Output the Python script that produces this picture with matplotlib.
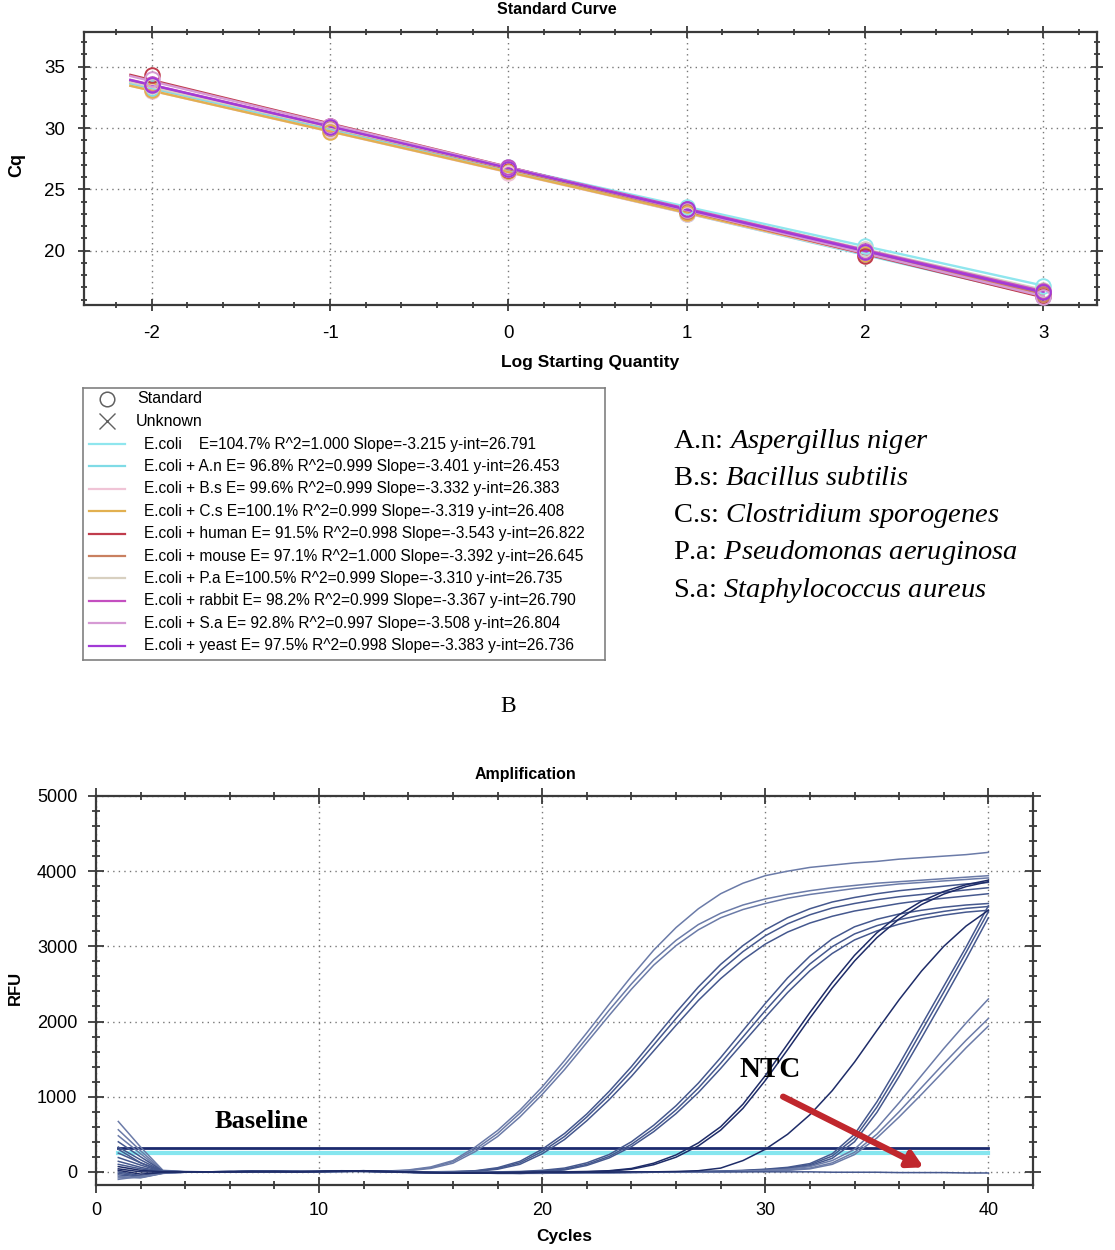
import numpy as np
import matplotlib
matplotlib.use("Agg")
import matplotlib.pyplot as plt
from matplotlib.ticker import MultipleLocator

W, H = 1115, 1250
plt.rcParams['font.family'] = ['Liberation Sans', 'DejaVu Sans']
plt.rcParams['axes.unicode_minus'] = False
plt.rcParams['mathtext.fontset'] = 'custom'
plt.rcParams['mathtext.rm'] = 'Liberation Serif'
plt.rcParams['mathtext.it'] = 'Liberation Serif:italic'

# ---------------- Standard curve data ----------------
log_quantity = [-2, -1, 0, 1, 2, 3]
sample_names = ["", "A.n", "B.s", "C.s", "human", "mouse", "P.a", "rabbit", "S.a", "yeast"]
efficiency = [104.7, 96.8, 99.6, 100.1, 91.5, 97.1, 100.5, 98.2, 92.8, 97.5]
r_squared = [1.000, 0.999, 0.999, 0.999, 0.998, 1.000, 0.999, 0.999, 0.997, 0.998]
slopes = [-3.215, -3.401, -3.332, -3.319, -3.543, -3.392, -3.310, -3.367, -3.508, -3.383]
y_intercepts = [26.791, 26.453, 26.383, 26.408, 26.822, 26.645, 26.735, 26.790, 26.804, 26.736]
sample_colors = ['#8fe6ee', '#7fdbe6', '#f0c4d6', '#e2b050', '#c03c4c',
                 '#c98060', '#d8d0c0', '#c44fc0', '#d69ad4', '#a23ad6']
cq_ecoli = [33.2, 30.0, 26.8, 23.6, 20.4, 17.1]
cq_an = [33.3, 29.8, 26.4, 23.0, 19.7, 16.3]
cq_bs = [33.0, 29.8, 26.3, 23.0, 19.8, 16.4]
cq_cs = [33.1, 29.7, 26.5, 23.1, 19.7, 16.5]
cq_human = [34.3, 30.2, 26.6, 23.2, 19.6, 16.3]
cq_mouse = [33.5, 30.0, 26.7, 23.2, 19.9, 16.5]
cq_pa = [33.4, 30.1, 26.7, 23.4, 20.1, 16.8]
cq_rabbit = [33.6, 30.2, 26.8, 23.4, 20.0, 16.7]
cq_sa = [34.0, 30.2, 26.7, 23.3, 19.9, 16.2]
cq_yeast = [33.5, 30.1, 26.7, 23.4, 19.9, 16.6]
cq_points = [cq_ecoli, cq_an, cq_bs, cq_cs, cq_human, cq_mouse, cq_pa, cq_rabbit, cq_sa, cq_yeast]
fit_x_range = [-2.12, 3.0]

species_abbrev = ["A.n", "B.s", "C.s", "P.a", "S.a"]
species_names = ["Aspergillus niger", "Bacillus subtilis", "Clostridium sporogenes",
                 "Pseudomonas aeruginosa", "Staphylococcus aureus"]

# ---------------- Amplification data (RFU per cycle 1..40) ----------------
cycles = list(range(1, 41))
g1a = [670, 330, 20, 5, 0, 0, 5, 5, 0, 5, 15, 10, 10, 25, 65, 150, 330, 550, 820, 1130, 1480, 1850, 2230, 2600, 2950, 3250, 3500, 3700, 3840, 3940, 4000, 4050, 4080, 4110, 4130, 4160, 4180, 4200, 4220, 4250]
g1b = [560, 280, 15, 0, -5, 0, 5, 0, 0, 5, 10, 10, 5, 20, 55, 135, 300, 510, 780, 1080, 1420, 1780, 2150, 2500, 2820, 3080, 3290, 3440, 3550, 3630, 3690, 3740, 3780, 3810, 3840, 3860, 3880, 3900, 3920, 3940]
g1c = [480, 240, 10, 0, 0, -5, 0, 5, 0, 0, 10, 15, 5, 15, 45, 115, 270, 470, 730, 1030, 1360, 1720, 2080, 2430, 2750, 3010, 3220, 3380, 3490, 3570, 3640, 3690, 3730, 3770, 3800, 3830, 3850, 3870, 3890, 3910]
g2a = [400, 200, 10, 0, 0, 0, 5, 5, 0, 0, 10, 10, 5, 0, 0, 5, 15, 55, 140, 300, 510, 770, 1070, 1400, 1760, 2120, 2460, 2760, 3010, 3220, 3380, 3500, 3590, 3650, 3700, 3740, 3770, 3800, 3830, 3850]
g2b = [330, 160, 5, 0, -5, 0, 0, 5, 5, 0, 5, 10, 0, -5, -5, 0, 10, 45, 120, 270, 470, 730, 1020, 1340, 1690, 2040, 2380, 2680, 2930, 3140, 3300, 3420, 3510, 3570, 3620, 3660, 3690, 3720, 3750, 3780]
g2c = [250, 120, 5, 0, 0, 0, 0, 0, 5, 5, 10, 5, 0, -5, -10, -5, 5, 35, 100, 240, 430, 680, 960, 1270, 1610, 1950, 2280, 2570, 2820, 3030, 3190, 3310, 3400, 3470, 3520, 3570, 3610, 3640, 3670, 3700]
g3a = [190, 90, 0, 0, 0, 5, 5, 0, 0, 5, 10, 10, 0, -5, -10, -10, -5, 0, 5, 20, 50, 120, 230, 400, 620, 880, 1180, 1520, 1880, 2240, 2580, 2870, 3100, 3260, 3360, 3430, 3480, 3520, 3550, 3570]
g3b = [140, 60, 0, -5, 0, 0, 5, 5, 0, 0, 10, 15, 5, -5, -10, -15, -10, -5, 0, 10, 35, 100, 205, 365, 575, 825, 1115, 1445, 1795, 2145, 2475, 2765, 2995, 3165, 3275, 3355, 3415, 3465, 3505, 3530]
g3c = [100, 40, 0, 0, -5, 0, 0, 5, 5, 0, 5, 10, 0, -10, -15, -15, -10, -5, -5, 5, 25, 85, 185, 335, 535, 775, 1055, 1375, 1715, 2055, 2385, 2675, 2905, 3085, 3205, 3295, 3365, 3415, 3455, 3480]
g4a = [70, 20, 0, 0, 0, 0, 5, 5, 0, 5, 10, 15, 5, 0, -10, -15, -15, -10, -5, -5, 0, 5, 15, 45, 115, 225, 385, 600, 900, 1280, 1700, 2120, 2520, 2880, 3180, 3420, 3600, 3730, 3820, 3880]
g4b = [40, 0, -5, 0, 0, 5, 5, 0, 0, 5, 10, 10, 5, -5, -10, -15, -15, -15, -10, -5, -5, 0, 10, 35, 95, 195, 345, 555, 845, 1215, 1625, 2045, 2445, 2805, 3115, 3365, 3555, 3695, 3795, 3860]
g5 = [20, -30, -10, 0, 0, 0, 0, 5, 5, 5, 10, 10, 0, -5, -10, -15, -15, -15, -15, -10, -10, -5, -5, 0, 0, 5, 15, 50, 150, 300, 500, 760, 1080, 1460, 1880, 2290, 2670, 3000, 3270, 3480]
g6a = [0, -50, -10, 0, 0, 0, 5, 5, 0, 0, 10, 10, 5, 0, -5, -10, -10, -15, -15, -15, -10, -10, -5, -5, 0, 0, 5, 10, 20, 35, 60, 110, 240, 500, 930, 1430, 1950, 2470, 2990, 3540]
g6b = [-20, -60, -15, 0, 0, 5, 5, 0, 0, 5, 10, 5, 0, -5, -10, -10, -15, -15, -20, -15, -15, -10, -10, -5, -5, 0, 0, 5, 15, 30, 50, 95, 210, 450, 860, 1350, 1870, 2390, 2920, 3460]
g6c = [-40, -70, -15, -5, 0, 0, 5, 5, 0, 0, 5, 10, 5, -5, -10, -15, -15, -20, -20, -15, -15, -10, -10, -5, -5, -5, 0, 0, 10, 20, 40, 80, 180, 400, 790, 1270, 1780, 2300, 2830, 3380]
g7a = [-60, -80, -20, -5, 0, 0, 0, 5, 5, 0, 5, 10, 5, 0, -5, -10, -15, -15, -15, -15, -10, -10, -10, -5, -5, 0, 0, 5, 10, 20, 35, 70, 150, 300, 580, 920, 1280, 1640, 1980, 2300]
g7b = [-80, -75, -20, -5, 0, 0, 5, 0, 0, 0, 5, 10, 5, -5, -10, -10, -15, -20, -20, -15, -15, -10, -10, -10, -5, -5, 0, 0, 5, 15, 25, 50, 120, 260, 500, 800, 1120, 1440, 1750, 2040]
g7c = [-100, -60, -15, 0, 0, 0, 0, 5, 5, 0, 5, 5, 0, -5, -10, -15, -15, -15, -20, -20, -15, -15, -10, -10, -5, -5, -5, 0, 5, 10, 20, 40, 100, 230, 450, 730, 1030, 1340, 1650, 1940]
ntc = [300, 120, 5, 0, 0, 0, 5, 5, 5, 0, 10, 10, 5, 0, -5, -5, -10, -10, -10, -5, -5, -5, 0, 0, 0, 0, 5, 5, 0, 0, 0, 0, -5, -5, -5, -10, -10, -10, -15, -15]
threshold_rfu = 320
baseline_rfu = 255
threshold_cycles = [1, 40]

curve_light = '#6b7ba8'
curve_mid = '#45588e'
curve_dark = '#1e2c68'
amp_curves = [(g1a, curve_light), (g1b, curve_light), (g1c, curve_light),
              (g2a, curve_mid), (g2b, curve_mid), (g2c, curve_mid),
              (g3a, curve_mid), (g3b, curve_mid), (g3c, curve_mid),
              (g6a, curve_mid), (g6b, curve_mid), (g6c, curve_mid),
              (g7a, curve_light), (g7b, curve_light), (g7c, curve_light),
              (ntc, curve_mid),
              (g4a, curve_dark), (g4b, curve_dark), (g5, curve_dark)]

# ---------------- figure ----------------
fig = plt.figure(figsize=(W / 100, H / 100), dpi=100)


def fx(px):
    return px / W


def fy(py):
    return 1 - py / H


def box(l, t, r, b):
    return [fx(l), fy(b), (r - l) / W, (b - t) / H]


def style_axes(ax, maj_len, min_len):
    for s in ax.spines.values():
        s.set_color('#3a3a3a')
        s.set_linewidth(1.6)
    ax.tick_params(which='both', direction='inout', top=True, right=True,
                   labeltop=False, labelright=False, color='#3a3a3a', width=1.3)
    ax.tick_params(which='major', length=maj_len)
    ax.tick_params(which='minor', length=min_len)
    ax.grid(True, which='major', linestyle=(0, (1, 3)), color='#777777', lw=1.0)
    ax.set_axisbelow(True)


# ---- Standard curve axes ----
ax1 = fig.add_axes(box(84, 32, 1097, 305))
fx_arr = np.array(fit_x_range)
for slope, yint, col in zip(slopes, y_intercepts, sample_colors):
    ax1.plot(fx_arr, yint + slope * fx_arr, color=col, lw=1.7, zorder=3)
for pts, col in zip(cq_points, sample_colors):
    ax1.plot(log_quantity, pts, linestyle='none', marker='o', ms=10.5, mfc='none',
             mec=col, mew=1.4, zorder=4)
ax1.set_xlim(-2.38, 3.3)
ax1.set_ylim(15.57, 37.83)
ax1.xaxis.set_major_locator(MultipleLocator(1))
ax1.xaxis.set_minor_locator(MultipleLocator(0.2))
ax1.yaxis.set_major_locator(MultipleLocator(5))
ax1.yaxis.set_minor_locator(MultipleLocator(1))
style_axes(ax1, 9, 5)
ax1.set_yticks([20, 25, 30, 35])
ax1.tick_params(axis='x', which='major', pad=10, labelsize=13.5)
ax1.tick_params(axis='y', which='major', pad=9, labelsize=13.5)

fig.text(fx(557), fy(9), "Standard Curve", ha='center', va='center',
         fontsize=11.5, fontweight='bold')
fig.text(fx(17), fy(165), "Cq", ha='center', va='center', rotation=90,
         fontsize=13, fontweight='bold')
fig.text(fx(590), fy(363), "Log Starting Quantity", ha='center', va='center',
         fontsize=12.5, fontweight='bold')

# ---- Legend box ----
lax = fig.add_axes(box(83, 388, 605, 660))
lax.set_xlim(83, 605)
lax.set_ylim(660, 388)
lax.set_xticks([])
lax.set_yticks([])
for s in lax.spines.values():
    s.set_color('#808080')
    s.set_linewidth(1.2)
lax.plot([107], [398.5], marker='o', ms=10.5, mfc='none', mec='#606060', mew=1.1)
lax.plot([107], [421], marker='x', ms=12, mec='#606060', mew=1.0)
lax.text(137, 398.5, "Standard", fontsize=11.5, va='center', ha='left')
lax.text(136, 421, "Unknown", fontsize=11.5, va='center', ha='left')
row_y0, row_dy = 444, 22.4
for i, (name, eff, r2, slope, yint, col) in enumerate(zip(sample_names, efficiency, r_squared,
                                                         slopes, y_intercepts, sample_colors)):
    yy = row_y0 + i * row_dy
    lax.plot([89, 125], [yy, yy], color=col, lw=1.6)
    head = "E.coli   " if name == "" else "E.coli + " + name
    label = "%s E=%s%% R^2=%.3f Slope=%.3f y-int=%.3f" % (
        head, ("%.1f" % eff).rjust(5), r2, slope, yint)
    lax.text(144, yy, label, fontsize=11.2, va='center', ha='left')

# ---- Species list ----
for i, (ab, nm) in enumerate(zip(species_abbrev, species_names)):
    s = ab + ": $\\mathit{" + nm.replace(" ", "\\ ") + "}$"
    fig.text(fx(673), fy(441 + i * 37.3), s, fontsize=20.5, family='Liberation Serif',
             ha='left', va='center')

fig.text(fx(508), fy(707), "B", fontsize=17, family='Liberation Serif',
         ha='center', va='center')

# ---- Amplification axes ----
ax2 = fig.add_axes(box(96, 796, 1033, 1185))
ax2.plot(threshold_cycles, [baseline_rfu, baseline_rfu], color='#86e6ef', lw=3.0, zorder=2)
ax2.plot(threshold_cycles, [threshold_rfu, threshold_rfu], color='#1b2a6e', lw=2.0, zorder=2)
for vals, col in amp_curves:
    ax2.plot(cycles, vals, color=col, lw=1.1, zorder=3)
ax2.set_xlim(0, 42)
ax2.set_ylim(-175, 5000)
ax2.xaxis.set_major_locator(MultipleLocator(10))
ax2.xaxis.set_minor_locator(MultipleLocator(2))
ax2.yaxis.set_major_locator(MultipleLocator(1000))
ax2.yaxis.set_minor_locator(MultipleLocator(200))
style_axes(ax2, 11, 6)
ax2.set_xticks([0, 10, 20, 30, 40])
ax2.set_yticks([0, 1000, 2000, 3000, 4000, 5000])
ax2.tick_params(axis='x', which='major', pad=7, labelsize=13)
ax2.tick_params(axis='y', which='major', pad=8, labelsize=13)

ax2.text(7.4, 667, "Baseline", fontsize=19, fontweight='bold', family='Liberation Serif',
         ha='center', va='center', zorder=6)
ax2.text(30.2, 1360, "NTC", fontsize=21, fontweight='bold', family='Liberation Serif',
         ha='center', va='center', zorder=6)
ax2.annotate("", xy=(37.1, 60), xytext=(30.8, 1000),
             arrowprops=dict(arrowstyle='-|>,head_length=0.9,head_width=0.5',
                             color='#c0272d', lw=4.5, shrinkA=0, shrinkB=0),
             zorder=7)

fig.text(fx(525), fy(775), "Amplification", ha='center', va='center',
         fontsize=11.5, fontweight='bold')
fig.text(fx(15), fy(988), "RFU", ha='center', va='center', rotation=90,
         fontsize=12, fontweight='bold')
fig.text(fx(564), fy(1237), "Cycles", ha='center', va='center',
         fontsize=12.5, fontweight='bold')

fig.savefig("out.png", dpi=100)
